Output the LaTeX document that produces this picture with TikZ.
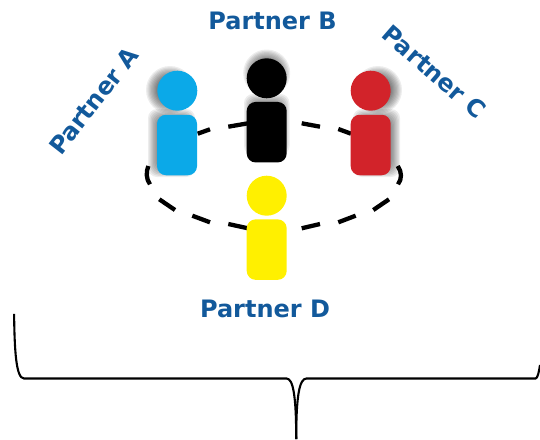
\documentclass[tikz,border=0pt]{standalone}
\usepackage{fontspec}
\setmainfont{DejaVu Sans}
\definecolor{partnerblue}{HTML}{12599B}
\definecolor{pcyan}{HTML}{0BA9E8}
\definecolor{pred}{HTML}{D2232A}
\definecolor{pyellow}{HTML}{FFF000}
\tikzset{
  partnerlabel/.style={text=partnerblue,font=\bfseries\fontsize{24}{28}\selectfont,inner sep=0pt,anchor=center},
  headdot/.style={circle,minimum size=40pt,inner sep=0pt,draw=none},
  bodybox/.style={rectangle,rounded corners=9pt,minimum width=40pt,minimum height=60.5pt,inner sep=0pt,draw=none},
  ringdash/.style={line width=4.3pt,black},
  bracketline/.style={line width=2.1pt,black},
  softlayer/.style={black,opacity=.07}
}
\newcommand{\softdisc}[3]{\foreach \w in {5,3.75,2.5,1.25,0,-1.25,-2.5,-3.75,-5}{\fill[softlayer] (#1,#2) circle ({#3+\w});}}
\newcommand{\softbox}[4]{\foreach \w in {5,3.75,2.5,1.25,0,-1.25,-2.5,-3.75,-5}{\fill[softlayer,rounded corners=9pt] ({#1-\w},{#2-\w}) rectangle ({#3+\w},{#4+\w});}}
\begin{document}
\begin{tikzpicture}[x=1pt,y=-1pt]
\useasboundingbox (0,0) rectangle (540,439);
% soft shadows
\softdisc{170}{90}{19}
\softbox{153}{114}{190}{172}
\softdisc{266.7}{73}{18.5}
\softbox{249}{99}{284.5}{150}
\softdisc{378}{90}{19}
\softbox{358}{114}{395}{172}
% dashed ring
\draw[ringdash] (197.7,133.7) -- (210,129.3);
\draw[ringdash] (228.3,126.7) -- (248,123.3);
\draw[ringdash] (301.7,123.3) -- (320,126.7);
\draw[ringdash] (338.3,129) -- (351,133.7);
\draw[ringdash] (397.7,166) .. controls (402,172) and (402,179) .. (398,184.3);
\draw[ringdash] (389,199.3) -- (373.3,210);
\draw[ringdash] (355.7,215.7) -- (338.3,222.3);
\draw[ringdash] (320,224) -- (301.7,228.3);
\draw[ringdash] (248,228.3) -- (228.3,224);
\draw[ringdash] (210,222.3) -- (192.3,215.7);
\draw[ringdash] (175,210) -- (159.3,199.3);
\draw[ringdash] (150,184.3) .. controls (146,179) and (146,172) .. (148.3,166);
% people
\node[headdot,fill=pcyan] (headA) at (177.3,90.7) {};
\node[bodybox,fill=pcyan] (bodyA) at (177,145) {};
\node[headdot,fill=black] (headB) at (266.7,78.3) {};
\node[bodybox,fill=black] (bodyB) at (266.7,132.2) {};
\node[headdot,fill=pred] (headC) at (370.7,90.7) {};
\node[bodybox,fill=pred] (bodyC) at (370.7,145) {};
\node[headdot,fill=pyellow] (headD) at (266.7,195.7) {};
\node[bodybox,fill=pyellow] (bodyD) at (266.7,249.6) {};
% labels
\node[partnerlabel,rotate=52] (labelA) at (94,101) {Partner A};
\node[partnerlabel] (labelB) at (272.5,21) {Partner B};
\node[partnerlabel,rotate=-41] (labelC) at (434,72) {Partner C};
\node[partnerlabel] (labelD) at (265,309) {Partner D};
% bracket
\draw[bracketline] (14.1,313.8) .. controls (14.5,350) and (16,378.5) .. (24,378.5)
  -- (286.5,378.5) .. controls (293,378.5) and (296.2,395) .. (296.2,439);
\draw[bracketline] (296.2,439) .. controls (296.2,395) and (299.5,378.5) .. (306.5,378.5)
  -- (535.5,378.5) .. controls (537.5,378.5) and (539,372) .. (540,365);
\end{tikzpicture}
\end{document}
